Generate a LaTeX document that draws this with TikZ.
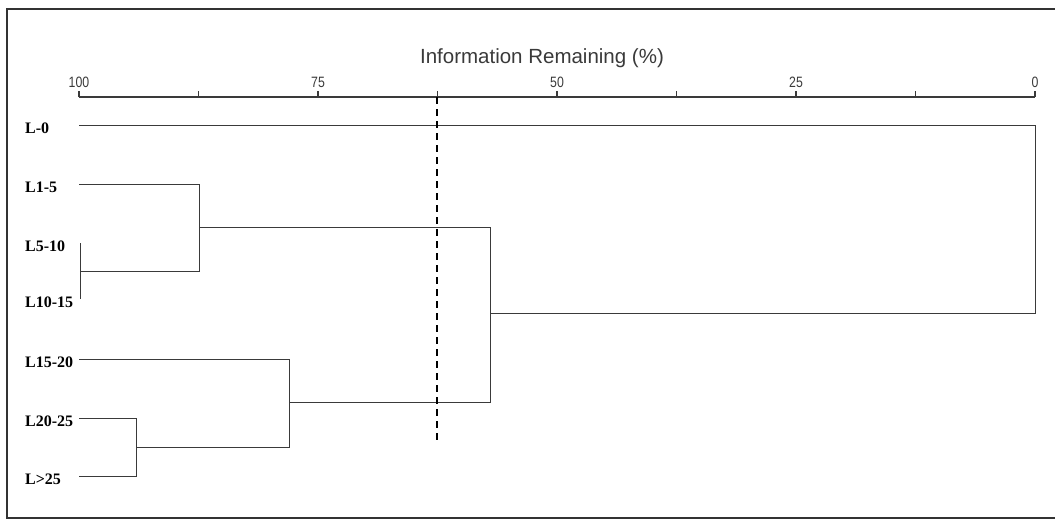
\documentclass[tikz,border=0pt]{standalone}
\usepackage{fontspec}
\setmainfont{Liberation Serif}
\setsansfont{Liberation Sans}
\definecolor{ink}{HTML}{3A3A3A}
\definecolor{framec}{HTML}{333333}
\newcommand{\narrowtxt}[1]{\scalebox{0.82}[1]{#1}}
\begin{document}
\begin{tikzpicture}[x=1pt,y=-1pt,
  leaf/.style={anchor=west,inner sep=0pt,font=\fontsize{16}{16}\selectfont\bfseries,text=black},
  tick/.style={anchor=south,inner sep=0pt,font=\sffamily\fontsize{15}{15}\selectfont,text=ink},
  branch/.style={draw=ink,line width=1pt},
  axisline/.style={draw=ink,line width=1.6pt},
  cut/.style={draw=black,line width=1.3pt,dash pattern=on 7pt off 5pt}]
\useasboundingbox (0,0) rectangle (1055,520);
% frame
\draw[framec,line width=2.5pt] (1055,9) -- (7,9) -- (7,518) -- (1055,518);
% axis
\node[anchor=south,inner sep=0pt,font=\sffamily\fontsize{20.5}{20.5}\selectfont,text=ink] (title) at (542,68) {Information Remaining (\%)};
\coordinate (a0) at (79,97);
\coordinate (a8) at (1035,97);
\draw[axisline] (a0) -- (a8);
\foreach \k in {0,...,8}{
  \draw[axisline,line width=1.3pt] (79+119.5*\k,97) -- (79+119.5*\k,91);
}
\node[tick] (t100) at (79,88) {\narrowtxt{100}};
\node[tick] (t75) at (318,88) {\narrowtxt{75}};
\node[tick] (t50) at (557,88) {\narrowtxt{50}};
\node[tick] (t25) at (796,88) {\narrowtxt{25}};
\node[tick] (t0) at (1035,88) {\narrowtxt{0}};
% leaves
\node[leaf] (n0) at (25,128.5) {L-0};
\node[leaf] (n1) at (25,187) {L1-5};
\node[leaf] (n2) at (25,246) {L5-10};
\node[leaf] (n3) at (25,302) {L10-15};
\node[leaf] (n4) at (25,362) {L15-20};
\node[leaf] (n5) at (25,421) {L20-25};
\node[leaf] (n6) at (25,479) {L>25};
\coordinate (l0) at (79,125);
\coordinate (l1) at (79,184);
\coordinate (l2) at (80,243);
\coordinate (l3) at (80,299);
\coordinate (l4) at (79,359);
\coordinate (l5) at (79,418);
\coordinate (l6) at (79,476);
% junctions
\coordinate (j23) at (80,271);
\coordinate (j123) at (199,227);
\coordinate (j56) at (136,447);
\coordinate (j456) at (289,402);
\coordinate (jall) at (490,313);
% dendrogram
\draw[branch] (l2) -- (l3);
\draw[branch] (l1) -| (199,271) -- (j23);
\draw[branch] (l5) -| (136,476) -- (l6);
\draw[branch] (l4) -| (289,447) -- (j56);
\draw[branch] (j123) -| (490,402) -- (j456);
\draw[branch] (l0) -| (1035,313) -- (jall);
% cut line
\coordinate (c1) at (437,97);
\coordinate (c2) at (437,443);
\draw[cut] (c1) -- (c2);
\end{tikzpicture}
\end{document}
